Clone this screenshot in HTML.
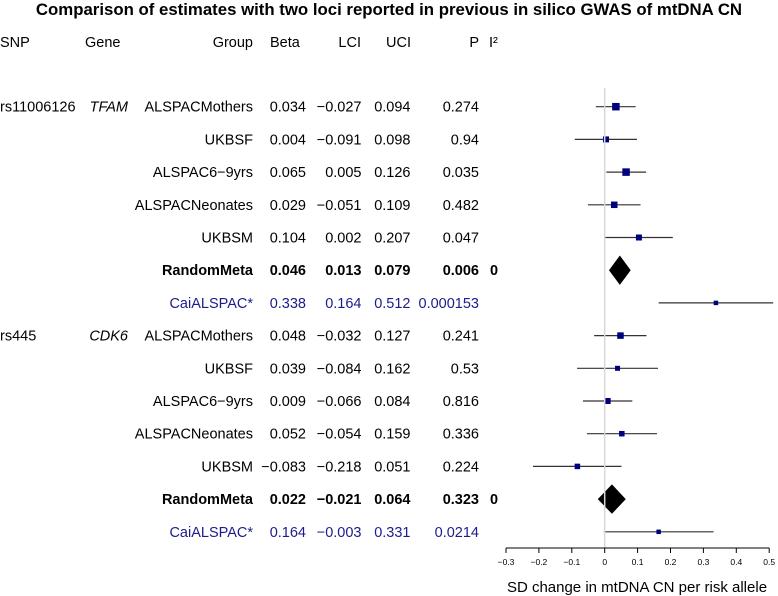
<!DOCTYPE html>
<html><head><meta charset="utf-8"><style>
html,body{margin:0;padding:0;background:#fff;}
svg{display:block;font-family:"Liberation Sans",Arial,sans-serif;}
</style></head><body>
<svg id="chart" width="778" height="596" viewBox="0 0 778 596" xmlns="http://www.w3.org/2000/svg">
<text x="389" y="15" text-anchor="middle" font-size="16.8" font-weight="bold">Comparison of estimates with two loci reported in previous in silico GWAS of mtDNA CN</text>
<g font-size="14.5">
<text x="0" y="47">SNP</text>
<text x="85" y="47">Gene</text>
<text x="253" y="47" text-anchor="end">Group</text>
<text x="270" y="47">Beta</text>
<text x="361" y="47" text-anchor="end">LCI</text>
<text x="386" y="47">UCI</text>
<text x="479" y="47" text-anchor="end">P</text>
<text x="489" y="47">I²</text>
</g>
<g id="rows"></g>
<g id="axis"></g>
<text x="637" y="592" text-anchor="middle" font-size="15">SD change in mtDNA CN per risk allele</text>
</svg>
<script>
const snps = ["rs11006126","","","","","","","rs445","","","","","",""];
const genes = ["TFAM","","","","","","","CDK6","","","","","",""];
const groups = ["ALSPACMothers","UKBSF","ALSPAC6\u22129yrs","ALSPACNeonates","UKBSM","RandomMeta","CaiALSPAC*","ALSPACMothers","UKBSF","ALSPAC6\u22129yrs","ALSPACNeonates","UKBSM","RandomMeta","CaiALSPAC*"];
const betas = [0.034,0.004,0.065,0.029,0.104,0.046,0.338,0.048,0.039,0.009,0.052,-0.083,0.022,0.164];
const lcis = [-0.027,-0.091,0.005,-0.051,0.002,0.013,0.164,-0.032,-0.084,-0.066,-0.054,-0.218,-0.021,-0.003];
const ucis = [0.094,0.098,0.126,0.109,0.207,0.079,0.512,0.127,0.162,0.084,0.159,0.051,0.064,0.331];
const pvals = ["0.274","0.94","0.035","0.482","0.047","0.006","0.000153","0.241","0.53","0.816","0.336","0.224","0.323","0.0214"];
const i2s = ["","","","","","0","","","","","","","0",""];
const kinds = ["s","s","s","s","s","m","c","s","s","s","s","s","m","c"];
const weights = [7.5,6,7.5,6.5,6,0,4.5,6.5,5,6,5.5,5.5,0,4.5];
const ticks = [-0.3,-0.2,-0.1,0,0.1,0.2,0.3,0.4,0.5];

const NS="http://www.w3.org/2000/svg";
const xs = v => 604.7 + v*329;
const ys = i => 106.7 + i*32.7;
const fmt = v => (v<0?"\u2212":"")+Math.abs(v).toFixed(3);
function mk(tag, attrs, parent, txt){
  const e=document.createElementNS(NS,tag);
  for(const k in attrs) e.setAttribute(k,attrs[k]);
  if(txt!==undefined) e.textContent=txt;
  parent.appendChild(e); return e;
}
const rows=document.getElementById('rows');
const axis=document.getElementById('axis');
const zl=mk('line',{x1:xs(0),x2:xs(0),y1:88,y2:548,stroke:'#d8d8d8','stroke-width':1.5},axis);


for(let i=0;i<groups.length;i++){
  const y=ys(i), k=kinds[i];
  const col = k==='c' ? '#1c1c8a' : '#000';
  const bold = k==='m' ? 'bold' : 'normal';
  const g=mk('g',{'font-size':14.5,fill:col,'font-weight':bold},rows);
  
  
  const ty=y+5;
  if(snps[i]) mk('text',{x:0,y:ty,fill:'#000'},g,snps[i]);
  if(genes[i]) mk('text',{x:128,y:ty,'text-anchor':'end','font-style':'italic',fill:'#000'},g,genes[i]);
  mk('text',{x:253,y:ty,'text-anchor':'end'},g,groups[i]);
  mk('text',{x:306,y:ty,'text-anchor':'end'},g,fmt(betas[i]));
  mk('text',{x:361.5,y:ty,'text-anchor':'end'},g,fmt(lcis[i]));
  mk('text',{x:410.5,y:ty,'text-anchor':'end'},g,fmt(ucis[i]));
  mk('text',{x:479,y:ty,'text-anchor':'end'},g,pvals[i]);
  if(i2s[i]) mk('text',{x:490,y:ty},g,i2s[i]);
  if(k==='m'){
    const d=mk('polygon',{points:`${xs(lcis[i])},${y} ${xs(betas[i])},${y-14.7} ${xs(ucis[i])},${y} ${xs(betas[i])},${y+14.7}`,fill:'#000'},rows);
    
    
  } else {
    const l=mk('line',{x1:xs(lcis[i]),x2:xs(ucis[i]),y1:y,y2:y,stroke:'#333','stroke-width':1.2},rows);
    
    
    const w=weights[i];
    const s=mk('rect',{x:xs(betas[i])-w/2,y:y-w/2,width:w,height:w,fill:'#00007f'},rows);
    
    
  }
}
const al=mk('line',{x1:xs(-0.3),x2:xs(0.5),y1:548,y2:548,stroke:'#000','stroke-width':1},axis);


ticks.forEach(t=>{
  const tl=mk('line',{x1:xs(t),x2:xs(t),y1:548,y2:553,stroke:'#000'},axis);
  
  
  const lab = t===0 ? "0" : (t<0?"\u2212":"")+Math.abs(t).toFixed(1);
  const tx=mk('text',{x:xs(t),y:565,'text-anchor':'middle','font-size':8.5},axis,lab);
  
  
});
</script>
</body></html>
